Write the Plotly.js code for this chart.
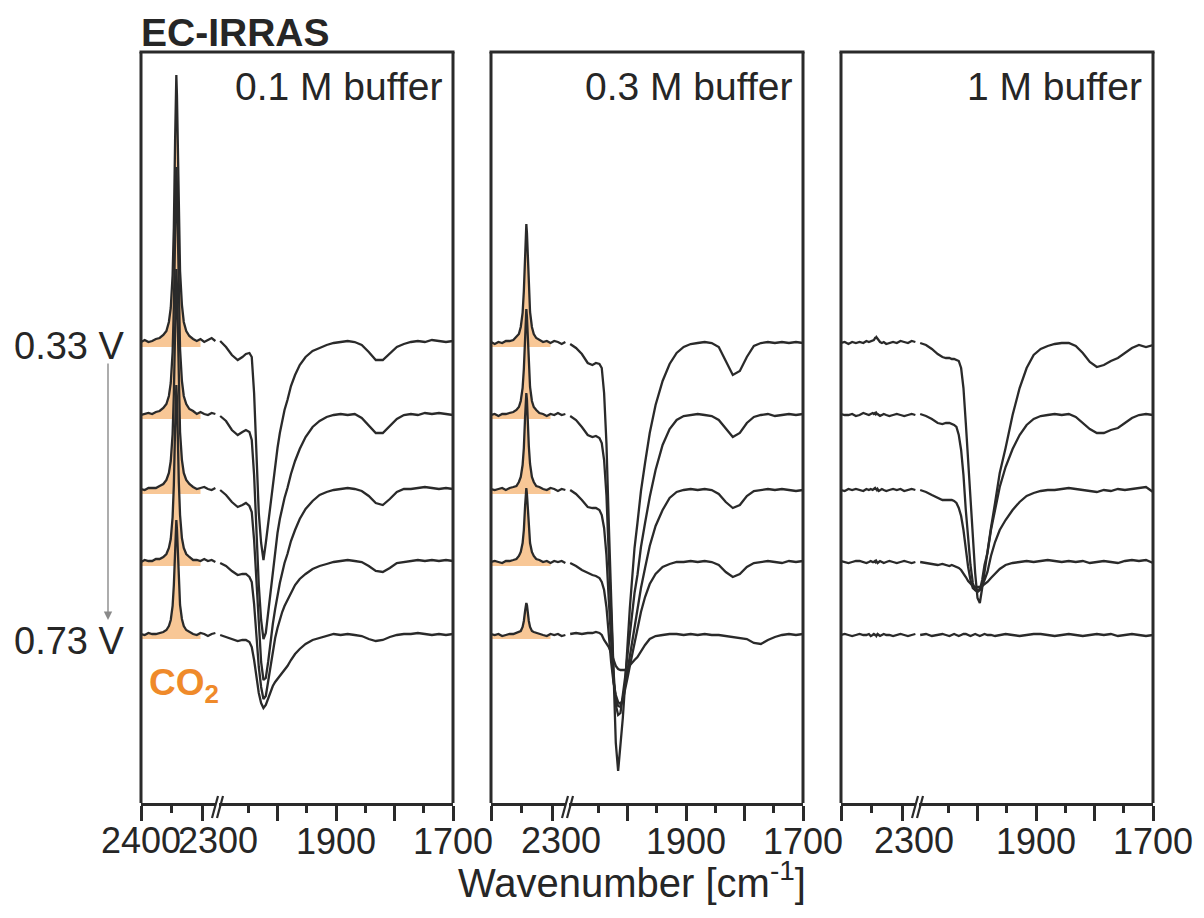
<!DOCTYPE html>
<html><head><meta charset="utf-8">
<script src="https://cdn.plot.ly/plotly-3.0.1.min.js"></script>
<style>html,body{margin:0;padding:0;background:#fff}#chart{width:1204px;height:918px}</style>
</head><body><div id="chart"></div>
<script>
// wavenumber grids (cm-1) of the two segments of the broken axis
const wnLeft = [2400, 2394, 2388, 2382, 2376, 2370, 2364, 2359, 2355, 2352, 2349, 2347, 2345, 2344, 2343, 2342, 2341, 2339, 2337, 2334, 2331, 2327, 2322, 2316, 2310, 2304, 2298, 2292, 2286, 2280];
const wnRight = [2098, 2088, 2078, 2068, 2060, 2054, 2048, 2044, 2040, 2036, 2032, 2028, 2024, 2020, 2016, 2012, 2008, 2004, 2000, 1996, 1992, 1988, 1983, 1977, 1970, 1962, 1952, 1940, 1928, 1916, 1904, 1892, 1880, 1868, 1856, 1844, 1832, 1820, 1808, 1796, 1784, 1772, 1760, 1748, 1736, 1724, 1712, 1700];
// vertical stacking offsets, 0.33 V (top) ... 0.73 V (bottom)
const offsets = [292, 220, 145, 73, 0];
const panelTitles = ['0.1 M buffer', '0.3 M buffer', '1 M buffer'];
const potentialLabels = ['0.33 V', '0.73 V'];
const leftTicks = [2400, 2300];
const leftMinor = [2350];
const rightTicks = [2000, 1900, 1800, 1700];
const rightTickText = ['', '1900', '', '1700'];
const rightMinor = [2050, 1950, 1850, 1750];

// 0.1 M buffer
const b01Left = [
 [1,3,1,2,4,5,8,12,21,35,68,116,202,248,268,248,202,120,72,38,21,12,7,4,2,4,1,3,5,2],
 [0,1,2,1,3,4,7,11,19,32,63,108,187,229,248,229,187,112,66,34,19,11,6,4,1,3,1,0,2,1],
 [1,0,2,2,2,4,6,10,17,29,56,96,167,204,221,204,167,99,58,30,17,10,6,3,1,2,3,1,0,2],
 [0,2,1,1,3,3,5,8,14,23,45,77,133,164,177,164,133,80,47,24,14,8,5,2,2,1,3,1,2,0],
 [1,0,2,1,1,2,3,5,9,15,29,50,87,106,115,106,87,52,30,16,9,5,3,1,0,2,1,-1,1,2]
];
const b01Right = [
 [2,-4,-12,-17,-14,-11,-10,-14,-50,-110,-170,-200,-217,-200,-180,-160,-140,-122,-105,-90,-78,-67,-57,-43,-32,-22,-14,-8,-5,-2,0,1,2,1,-2,-9,-17,-17,-10,-4,-1,1,2,1,3,2,1,2],
 [-1,-6,-15,-20,-17,-15,-17,-25,-60,-115,-170,-205,-224,-218,-198,-175,-152,-135,-118,-104,-93,-83,-73,-59,-46,-34,-22,-12,-6,-2,0,1,0,1,-3,-10,-18,-18,-11,-4,0,1,0,2,1,2,1,0],
 [0,-5,-12,-17,-15,-13,-16,-22,-50,-95,-140,-172,-190,-188,-172,-152,-134,-119,-105,-93,-83,-73,-64,-51,-40,-29,-19,-11,-5,-2,0,1,2,1,-1,-6,-13,-15,-9,-2,1,1,2,3,2,1,2,1],
 [-1,-4,-9,-13,-12,-12,-15,-20,-42,-75,-105,-125,-137,-134,-120,-105,-88,-76,-66,-57,-50,-44,-38,-30,-23,-17,-12,-7,-4,-2,0,1,2,1,0,-4,-9,-10,-6,-1,0,1,2,1,2,1,2,1],
 [0,-2,-4,-6,-5,-5,-7,-12,-25,-42,-58,-68,-73,-70,-63,-56,-51,-47,-44,-40,-37,-34,-31,-25,-19,-14,-9,-5,-3,-1,1,0,1,0,-1,-4,-6,-5,-2,0,1,1,2,1,0,1,0,1]
];
// 0.3 M buffer
const b03Left = [
 [1,-1,1,0,2,2,3,6,9,16,30,52,90,110,119,110,90,54,31,16,9,5,3,1,2,0,2,1,-1,1],
 [0,1,-1,1,1,2,3,5,8,14,27,46,80,98,106,98,80,48,28,14,8,5,2,1,-1,1,0,2,0,1],
 [1,0,1,2,0,2,3,4,8,13,25,42,73,90,97,90,73,44,26,13,8,4,3,1,0,2,1,-1,1,0],
 [0,1,0,-1,1,1,2,3,6,10,19,32,56,68,74,68,56,33,19,10,6,3,2,0,1,-1,1,0,1,-1],
 [1,0,1,-1,0,1,1,2,3,4,8,14,24,30,32,30,24,14,8,4,3,2,1,0,-1,1,0,1,-1,0]
];
const b03Right = [
 [-1,-5,-11,-20,-22,-20,-21,-25,-50,-100,-180,-260,-340,-400,-428,-405,-375,-340,-300,-265,-235,-205,-180,-148,-120,-90,-62,-38,-21,-10,-4,-1,0,1,0,-4,-18,-32,-28,-14,-3,0,1,0,1,0,1,0],
 [-1,-5,-12,-20,-22,-21,-23,-28,-45,-80,-140,-200,-255,-290,-300,-298,-282,-262,-240,-218,-198,-178,-160,-132,-108,-82,-55,-30,-14,-5,-1,0,1,0,-1,-5,-14,-22,-18,-8,-2,0,1,-1,0,1,0,1],
 [0,-4,-10,-17,-18,-18,-20,-25,-38,-65,-110,-155,-190,-210,-216,-217,-208,-195,-180,-165,-150,-135,-120,-98,-78,-56,-36,-20,-8,-2,0,1,0,1,0,-4,-12,-18,-15,-6,-1,0,1,0,1,0,-1,0],
 [-1,-4,-8,-11,-13,-14,-16,-20,-28,-45,-75,-100,-120,-133,-140,-142,-138,-128,-116,-104,-93,-82,-68,-50,-35,-22,-12,-5,-2,0,0,1,0,1,0,-3,-10,-15,-12,-5,-1,0,1,0,-1,1,0,1],
 [1,2,1,2,2,3,2,0,-5,-8,-12,-18,-25,-31,-34,-35,-35,-35,-33,-30,-27,-25,-22,-16,-10,-4,-1,0,1,1,0,1,0,1,0,0,-1,-2,-3,-4,-8,-9,-5,-2,0,1,0,1]
];
// 1 M buffer
const b1Left = [
 [0,1,-1,1,0,1,0,2,1,2,3,3,5,5,6,5,4,2,1,0,1,-1,0,1,0,2,1,0,2,1],
 [1,0,0,1,-1,0,2,1,0,1,2,1,2,1,2,1,1,0,-1,0,1,0,-1,0,1,0,-1,0,1,0],
 [0,-1,1,0,1,0,-1,1,0,1,0,1,2,1,1,0,1,-1,0,1,0,-1,0,1,0,1,-1,0,1,0],
 [1,0,-1,0,1,1,0,-1,0,1,0,0,1,0,1,0,-1,0,1,0,-1,0,1,0,-1,0,1,0,-1,0],
 [0,1,0,-1,0,1,0,0,1,-1,0,1,0,0,-1,0,1,0,-1,0,1,0,0,-1,0,1,0,-1,0,1]
];
const b1Right = [
 [0,-2,-6,-11,-14,-15,-15,-16,-16,-17,-18,-25,-45,-80,-120,-160,-200,-230,-255,-260,-245,-228,-212,-185,-160,-130,-105,-72,-45,-25,-12,-6,-3,-1,0,0,-3,-10,-19,-24,-22,-18,-15,-10,-5,-2,-4,-2],
 [1,-1,-4,-8,-9,-8,-8,-9,-10,-12,-20,-35,-60,-95,-125,-150,-168,-175,-177,-175,-165,-150,-138,-115,-95,-72,-52,-34,-20,-10,-4,-1,0,1,0,1,-2,-8,-14,-18,-18,-15,-13,-8,-3,0,1,0],
 [0,-2,-5,-8,-10,-10,-10,-10,-11,-13,-18,-26,-40,-60,-77,-90,-98,-100,-100,-99,-96,-90,-82,-66,-52,-40,-30,-20,-12,-6,-3,-1,0,0,1,2,1,0,-1,-2,0,-1,1,0,1,2,3,-2],
 [0,-1,-2,-3,-2,-3,-4,-3,-4,-5,-6,-8,-11,-15,-19,-22,-24,-25,-25,-25,-24,-22,-20,-16,-12,-7,-3,-1,0,1,0,1,2,1,0,1,0,1,-1,0,1,0,-1,1,2,1,2,-1],
 [0,1,-1,0,1,0,-1,0,1,0,-1,0,1,1,0,-1,0,1,0,-1,0,1,0,0,-1,0,1,0,-1,0,1,1,0,-1,0,1,0,-1,0,1,0,1,-1,0,1,0,-1,0]
];

const panels = [
  {L: b01Left, R: b01Right, fill: true, lab2300: 15},
  {L: b03Left, R: b03Right, fill: true, lab2300: 8},
  {L: b1Left, R: b1Right, fill: false, lab2300: 11}
];

const W = 1204, H = 918;
const fx = px => px / W, fy = py => 1 - py / H;
const FONT = '"Liberation Sans", Arial, Helvetica, sans-serif';
const INK = '#262626';
const LINE = '#2a2a2a';
const FILL = '#f8c796';
const ORANGE = '#ef8a2a';
const panelLeft = [141, 491, 841];
const segLw = 75, segGap = 3, panelW = 312;
const plotTop = 52, plotBottom = 803;
const yDomain = [fy(plotBottom), fy(plotTop)];
const yRange = [-168, 583];
const fillFrom = 0, fillTo = 26, fillDrop = 4;

const traces = [];
const layout = {
  width: W, height: H,
  margin: {l: 0, r: 0, t: 0, b: 0, pad: 0},
  paper_bgcolor: '#fff', plot_bgcolor: 'rgba(0,0,0,0)',
  showlegend: false,
  font: {family: FONT, color: INK},
  shapes: [], annotations: []
};

const axisBase = {
  showgrid: false, zeroline: false, showline: true, linewidth: 3, linecolor: LINE,
  ticks: 'outside', ticklen: 15, tickwidth: 3, tickcolor: LINE, tickangle: 0,
  tickfont: {family: FONT, size: 36, color: INK}, fixedrange: true, tickmode: 'array'
};

panels.forEach((p, i) => {
  const xl = 'x' + (2 * i + 1), xr = 'x' + (2 * i + 2), ya = 'y' + (i + 1);
  const keyL = 'xaxis' + (i === 0 ? '' : 2 * i + 1), keyR = 'xaxis' + (2 * i + 2);
  const keyY = 'yaxis' + (i === 0 ? '' : i + 1);
  const pl = panelLeft[i];
  layout[keyL] = Object.assign({}, axisBase, {
    domain: [fx(pl), fx(pl + segLw)], range: [2400, 2279], anchor: ya,
    tickvals: leftTicks, showticklabels: false,
    minor: {tickmode: 'array', tickvals: leftMinor, ticks: 'outside', ticklen: 7, tickwidth: 3, tickcolor: LINE, showgrid: false}
  });
  layout[keyR] = Object.assign({}, axisBase, {
    domain: [fx(pl + segLw + segGap), fx(pl + panelW)], range: [2100, 1700], anchor: ya,
    tickvals: rightTicks, ticktext: rightTickText, ticklabelstandoff: -10,
    minor: {tickmode: 'array', tickvals: rightMinor, ticks: 'outside', ticklen: 7, tickwidth: 3, tickcolor: LINE, showgrid: false}
  });
  layout[keyY] = {domain: yDomain, range: yRange, anchor: xl, visible: false, fixedrange: true};

  // CO2 fills
  if (p.fill) {
    p.L.forEach((vals, k) => {
      const xs = wnLeft.slice(fillFrom, fillTo);
      traces.push({x: xs, y: xs.map(() => offsets[k] - fillDrop), xaxis: xl, yaxis: ya, mode: 'lines',
        line: {width: 0, color: FILL}, hoverinfo: 'skip'});
      traces.push({x: xs, y: vals.slice(fillFrom, fillTo).map(v => v + offsets[k]), xaxis: xl, yaxis: ya,
        mode: 'lines', fill: 'tonexty', fillcolor: FILL, line: {width: 0, color: FILL}, hoverinfo: 'skip'});
    });
  }
});

panels.forEach((p, i) => {
  const xl = 'x' + (2 * i + 1), xr = 'x' + (2 * i + 2), ya = 'y' + (i + 1);
  for (let k = 0; k < offsets.length; k++) {
    traces.push({x: wnLeft, y: p.L[k].map(v => v + offsets[k]), xaxis: xl, yaxis: ya, mode: 'lines',
      line: {color: LINE, width: 2.3}, hoverinfo: 'skip'});
    traces.push({x: wnRight, y: p.R[k].map(v => v + offsets[k]), xaxis: xr, yaxis: ya, mode: 'lines',
      line: {color: LINE, width: 2.3}, hoverinfo: 'skip'});
  }
  const pl = panelLeft[i];
  const ln = {color: LINE, width: 3};
  // frame (top, left, right)
  layout.shapes.push({type: 'line', xref: 'paper', yref: 'paper', x0: fx(pl - 1.5), x1: fx(pl + panelW + 1.5), y0: fy(plotTop), y1: fy(plotTop), line: ln});
  layout.shapes.push({type: 'line', xref: 'paper', yref: 'paper', x0: fx(pl), x1: fx(pl), y0: fy(plotTop), y1: fy(plotBottom), line: ln});
  layout.shapes.push({type: 'line', xref: 'paper', yref: 'paper', x0: fx(pl + panelW), x1: fx(pl + panelW), y0: fy(plotTop), y1: fy(plotBottom), line: ln});
  // axis break marks //
  const bx = pl + segLw + segGap / 2;
  [-2.5, 2.5].forEach(d => {
    layout.shapes.push({type: 'line', xref: 'paper', yref: 'paper',
      x0: fx(bx + d - 3), x1: fx(bx + d + 3), y0: fy(plotBottom + 15), y1: fy(plotBottom - 7),
      line: {color: LINE, width: 2.2}});
  });
  // panel title
  layout.annotations.push({xref: 'paper', yref: 'paper', x: fx(pl + panelW - 9), y: fy(86), xanchor: 'right', yanchor: 'middle',
    text: panelTitles[i], showarrow: false, font: {family: FONT, size: 39, color: INK}});
  // left segment tick labels
  if (i === 0) {
    layout.annotations.push({xref: xl, yref: 'paper', x: leftTicks[0], y: fy(840), xanchor: 'center', yanchor: 'middle',
      text: String(leftTicks[0]), showarrow: false, font: {family: FONT, size: 36, color: INK}});
  }
  layout.annotations.push({xref: xl, yref: 'paper', x: leftTicks[1], y: fy(840), xanchor: 'center', yanchor: 'middle', xshift: p.lab2300,
    text: String(leftTicks[1]), showarrow: false, font: {family: FONT, size: 36, color: INK}});
});

layout.annotations.push(
  {xref: 'paper', yref: 'paper', x: fx(139), y: fy(32), xanchor: 'left', yanchor: 'middle',
    text: '<b>EC-IRRAS</b>', showarrow: false, font: {family: FONT, size: 39, color: INK}},
  {xref: 'paper', yref: 'paper', x: fx(127), y: fy(346), xanchor: 'right', yanchor: 'middle',
    text: potentialLabels[0], showarrow: false, font: {family: FONT, size: 38, color: INK}},
  {xref: 'paper', yref: 'paper', x: fx(127), y: fy(641), xanchor: 'right', yanchor: 'middle',
    text: potentialLabels[1], showarrow: false, font: {family: FONT, size: 38, color: INK}},
  {xref: 'paper', yref: 'paper', x: fx(108), y: fy(620), ax: 0, ay: -258, text: '', showarrow: true,
    arrowhead: 2, arrowsize: 1.2, arrowwidth: 1.4, arrowcolor: '#8a8a8a'},
  {xref: 'paper', yref: 'paper', x: fx(147), y: fy(685), xanchor: 'left', yanchor: 'middle',
    text: '<b>CO<sub>2</sub></b>', showarrow: false, font: {family: FONT, size: 37, color: ORANGE}},
  {xref: 'paper', yref: 'paper', x: fx(632), y: fy(880), xanchor: 'center', yanchor: 'middle',
    text: 'Wavenumber [cm<sup>-1</sup>]', showarrow: false, font: {family: FONT, size: 40, color: INK}}
);

Plotly.newPlot('chart', traces, layout, {staticPlot: true, displayModeBar: false});
</script>
</body></html>
